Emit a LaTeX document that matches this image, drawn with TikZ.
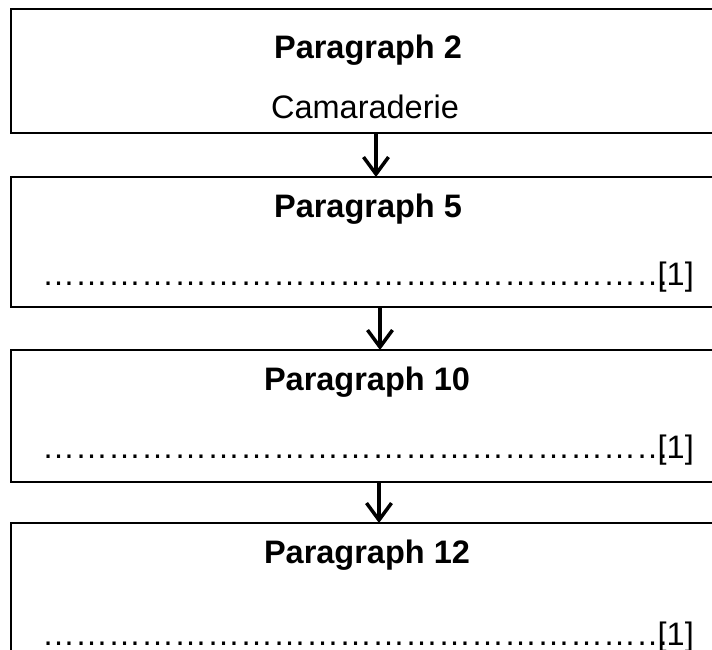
\documentclass[tikz,border=0pt]{standalone}
\usepackage{fontspec}
\setmainfont{Liberation Sans}
\usetikzlibrary{arrows.meta}
\newcommand\dotrun{\foreach \i in {1,...,19}{…}}
\begin{document}
\begin{tikzpicture}[x=1pt,y=-1pt,
  box/.style={draw,line width=2pt,anchor=north west,minimum width=729pt,inner sep=0pt,outer sep=0pt},
  lab/.style={inner sep=0pt,anchor=base,font=\fontsize{32.5}{39}\selectfont},
  head/.style={lab,font=\fontsize{32.5}{39}\selectfont\bfseries},
  dotline/.style={lab,anchor=base west,font=\fontsize{33}{39}\selectfont},
  mark1/.style={lab,anchor=base east},
  arr/.style={line width=3.5pt,-{Straight Barb[length=17pt,width=25pt,line width=3.5pt]}}]
\clip (0,0) rectangle (712,649);
\useasboundingbox (0,0) rectangle (712,649);
\node[box,minimum height=124pt] (b1) at (11,9) {};
\node[box,minimum height=130pt] (b2) at (11,177) {};
\node[box,minimum height=132pt] (b3) at (11,350) {};
\node[box,minimum height=190pt] (b4) at (11,523) {};
\node[head] (h1) at (368,58) {Paragraph 2};
\node[lab] (c1) at (365,118) {Camaraderie};
\node[head] (h2) at (368,217) {Paragraph 5};
\node[dotline] (d2) at (42,285) {\dotrun};
\node[mark1] (m2) at (694,285) {[1]};
\node[head] (h3) at (367,390) {Paragraph 10};
\node[dotline] (d3) at (42,458) {\dotrun};
\node[mark1] (m3) at (694,458) {[1]};
\node[head] (h4) at (367,563) {Paragraph 12};
\node[dotline] (d4) at (42,645) {\dotrun};
\node[mark1] (m4) at (694,645) {[1]};
\coordinate (a1) at (376,0);
\coordinate (a2) at (380,0);
\coordinate (a3) at (379,0);
\draw[arr] (b1.south -| a1) -- (b2.north -| a1);
\draw[arr] (b2.south -| a2) -- (b3.north -| a2);
\draw[arr] (b3.south -| a3) -- (b4.north -| a3);
\end{tikzpicture}
\end{document}
